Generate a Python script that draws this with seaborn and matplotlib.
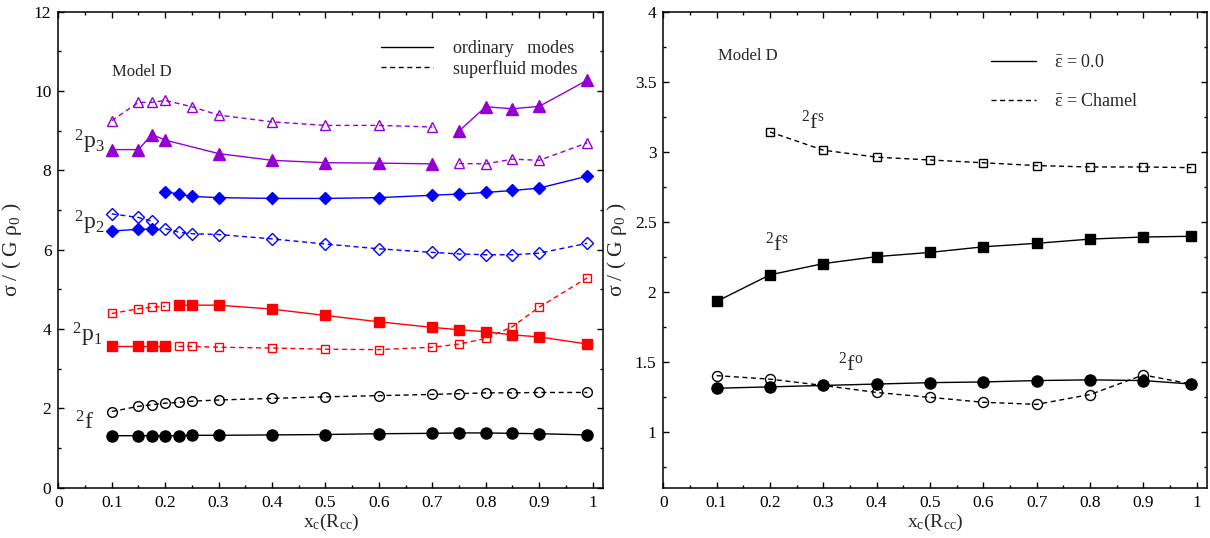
import matplotlib
matplotlib.use("Agg")
import matplotlib.pyplot as plt
import seaborn as sns
from matplotlib.lines import Line2D
from matplotlib.ticker import MultipleLocator, FormatStrFormatter

# -------- left panel: Model D, ordinary vs superfluid modes --------
f_x = [0.1, 0.15, 0.175, 0.2, 0.225, 0.25, 0.3, 0.4, 0.5, 0.6, 0.7, 0.75, 0.8, 0.85, 0.9, 0.99]
f_ord = [1.31, 1.31, 1.31, 1.31, 1.31, 1.32, 1.32, 1.33, 1.34, 1.36, 1.37, 1.38, 1.38, 1.37, 1.36, 1.33]
f_sup = [1.92, 2.05, 2.09, 2.13, 2.15, 2.18, 2.21, 2.25, 2.29, 2.32, 2.35, 2.37, 2.39, 2.39, 2.40, 2.40]

p1_xa = [0.1, 0.15, 0.175, 0.2]
p1_xb = [0.225, 0.25, 0.3, 0.4, 0.5, 0.6, 0.7, 0.75, 0.8, 0.85, 0.9, 0.99]
p1_ord_a = [3.57, 3.57, 3.57, 3.57]
p1_ord_b = [4.60, 4.60, 4.60, 4.50, 4.34, 4.18, 4.04, 3.98, 3.93, 3.85, 3.80, 3.62]
p1_sup_a = [4.39, 4.51, 4.55, 4.57]
p1_sup_b = [3.56, 3.56, 3.54, 3.52, 3.49, 3.48, 3.54, 3.62, 3.76, 4.06, 4.55, 5.29]

p2_xa = [0.1, 0.15, 0.175]
p2_xb = [0.2, 0.225, 0.25, 0.3, 0.4, 0.5, 0.6, 0.7, 0.75, 0.8, 0.85, 0.9, 0.99]
p2_ord_a = [6.47, 6.51, 6.52]
p2_ord_b = [7.46, 7.40, 7.34, 7.31, 7.29, 7.29, 7.31, 7.37, 7.40, 7.44, 7.49, 7.55, 7.85]
p2_sup_a = [6.90, 6.81, 6.71]
p2_sup_b = [6.53, 6.44, 6.40, 6.38, 6.27, 6.14, 6.02, 5.93, 5.89, 5.87, 5.87, 5.91, 6.16]

p3_ord_xa = [0.1, 0.15, 0.175, 0.2, 0.3, 0.4, 0.5, 0.6, 0.7]
p3_ord_a = [8.52, 8.52, 8.90, 8.76, 8.42, 8.25, 8.19, 8.18, 8.16]
p3_sup_xa = [0.1, 0.15, 0.175, 0.2, 0.25, 0.3, 0.4, 0.5, 0.6, 0.7]
p3_sup_a = [9.25, 9.71, 9.71, 9.76, 9.60, 9.39, 9.22, 9.13, 9.13, 9.09]
p3_xb = [0.75, 0.8, 0.85, 0.9, 0.99]
p3_ord_b = [8.99, 9.60, 9.55, 9.61, 10.27]
p3_sup_b = [8.17, 8.16, 8.28, 8.25, 8.69]

# -------- right panel: entrainment comparison --------
r_x = [0.1, 0.2, 0.3, 0.4, 0.5, 0.6, 0.7, 0.8, 0.9, 0.99]
fs_eps0 = [1.93, 2.12, 2.20, 2.25, 2.28, 2.32, 2.345, 2.375, 2.39, 2.395]
fs_chamel_x = [0.2, 0.3, 0.4, 0.5, 0.6, 0.7, 0.8, 0.9, 0.99]
fs_chamel = [3.14, 3.01, 2.96, 2.94, 2.92, 2.90, 2.89, 2.89, 2.885]
fo_eps0 = [1.31, 1.32, 1.33, 1.34, 1.35, 1.355, 1.365, 1.37, 1.365, 1.34]
fo_chamel = [1.40, 1.375, 1.33, 1.28, 1.245, 1.21, 1.195, 1.265, 1.405, 1.34]

PURPLE = "#9400d3"

sns.set_theme(style="ticks")
plt.rcParams.update({
    "font.family": ["Liberation Serif", "DejaVu Serif"],
    "mathtext.fontset": "stix",
    "mathtext.default": "regular",
    "xtick.direction": "in",
    "ytick.direction": "in",
    "xtick.top": True,
    "ytick.right": True,
    "axes.linewidth": 1.1,
    "axes.edgecolor": "black",
    "xtick.color": "black",
    "ytick.color": "black",
    "xtick.major.size": 4,
    "ytick.major.size": 4,
    "xtick.minor.size": 2.2,
    "ytick.minor.size": 2.2,
    "xtick.major.width": 1.0,
    "ytick.major.width": 1.0,
    "xtick.minor.width": 1.0,
    "ytick.minor.width": 1.0,
    "xtick.labelsize": 12.5,
    "ytick.labelsize": 12.5,
    "lines.dashed_pattern": [3.6, 2.6],
})


def draw(ax, x, y, color, marker, filled, dashed, ms):
    sns.lineplot(x=x, y=y, ax=ax, color=color, marker=marker, markersize=ms,
                 markerfacecolor=color if filled else "none", markeredgecolor=color,
                 markeredgewidth=1.0, linestyle="--" if dashed else "-",
                 linewidth=1.0, sort=False, errorbar=None, legend=False)


fig = plt.figure(figsize=(12.1, 5.38), dpi=100)
ax1 = fig.add_axes([0.0482, 0.0935, 0.4504, 0.8851])
ax2 = fig.add_axes([0.5482, 0.0935, 0.4496, 0.8851])

# left panel curves
draw(ax1, f_x, f_ord, "black", "o", True, False, 8.0)
draw(ax1, f_x, f_sup, "black", "o", False, True, 7.0)
draw(ax1, p1_xa, p1_ord_a, "red", "s", True, False, 7.2)
draw(ax1, p1_xb, p1_ord_b, "red", "s", True, False, 7.2)
draw(ax1, p1_xa, p1_sup_a, "red", "s", False, True, 6.2)
draw(ax1, p1_xb, p1_sup_b, "red", "s", False, True, 6.2)
draw(ax1, p2_xa, p2_ord_a, "blue", "D", True, False, 6.6)
draw(ax1, p2_xb, p2_ord_b, "blue", "D", True, False, 6.6)
draw(ax1, p2_xa, p2_sup_a, "blue", "D", False, True, 5.8)
draw(ax1, p2_xb, p2_sup_b, "blue", "D", False, True, 5.8)
draw(ax1, p3_ord_xa, p3_ord_a, PURPLE, "^", True, False, 8.2)
draw(ax1, p3_xb, p3_ord_b, PURPLE, "^", True, False, 8.2)
draw(ax1, p3_sup_xa, p3_sup_a, PURPLE, "^", False, True, 7.6)
draw(ax1, p3_xb, p3_sup_b, PURPLE, "^", False, True, 7.6)

# right panel curves
draw(ax2, r_x, fs_eps0, "black", "s", True, False, 6.8)
draw(ax2, fs_chamel_x, fs_chamel, "black", "s", False, True, 6.0)
draw(ax2, r_x, fo_eps0, "black", "o", True, False, 8.0)
draw(ax2, r_x, fo_chamel, "black", "o", False, True, 7.2)

ax1.set_xlim(0, 1.02)
ax1.set_ylim(0, 12)
ax1.yaxis.set_major_locator(MultipleLocator(2))
ax1.yaxis.set_minor_locator(MultipleLocator(1))
ax2.set_xlim(0, 1.02)
ax2.set_ylim(0.6, 4)
ax2.yaxis.set_major_locator(MultipleLocator(0.5))
ax2.yaxis.set_minor_locator(MultipleLocator(0.25))
ax2.yaxis.set_major_formatter(FormatStrFormatter("%g"))

for ax in (ax1, ax2):
    ax.xaxis.set_major_locator(MultipleLocator(0.1))
    ax.xaxis.set_minor_locator(MultipleLocator(0.05))
    ax.xaxis.set_major_formatter(FormatStrFormatter("%g"))
    ax.tick_params(which="both", top=True, right=True, direction="in")
    ax.tick_params(which="major", pad=5)
    ax.set_xlabel("x$_c$(R$_{cc}$)", fontsize=14)
    ax.set_ylabel("σ / ( G ρ$_0$ )", fontsize=15.5)
    ax.xaxis.set_label_coords(0.5, -0.05)
    ax.yaxis.set_label_coords(-0.063, 0.5)
    for s in ax.spines.values():
        s.set_visible(True)

# annotations
ax1.text(0.10, 10.48, "Model D", fontsize=12, va="center")
ax1.text(0.03, 8.55, "$^2$p$_3$", fontsize=17, va="baseline")
ax1.text(0.03, 6.50, "$^2$p$_2$", fontsize=17, va="baseline")
ax1.text(0.026, 3.69, "$^2$p$_1$", fontsize=17, va="baseline")
ax1.text(0.032, 1.46, "$^2$f", fontsize=17, va="baseline")

ax2.text(0.102, 3.68, "Model D", fontsize=12, va="center")
ax2.text(0.258, 3.16, "$^2$f$^s$", fontsize=16, va="baseline")
ax2.text(0.19, 2.29, "$^2$f$^s$", fontsize=16, va="baseline")
ax2.text(0.328, 1.436, "$^2$f$^o$", fontsize=16, va="baseline")

h_solid = Line2D([], [], color="black", lw=1.0)
h_dash = Line2D([], [], color="black", lw=1.0, ls="--")
ax1.legend([h_solid, h_dash], ["ordinary   modes", "superfluid modes"],
           loc="upper left", bbox_to_anchor=(0.592, 0.94), frameon=False,
           fontsize=13, handlelength=2.9, handletextpad=1.1, labelspacing=0.15,
           borderpad=0, borderaxespad=0)
ax2.legend([h_solid, h_dash], [r"$\bar{\varepsilon}$ = 0.0", r"$\bar{\varepsilon}$ = Chamel"],
           loc="upper left", bbox_to_anchor=(0.602, 0.91), frameon=False,
           fontsize=13, handlelength=2.5, handletextpad=1.0, labelspacing=1.2,
           borderpad=0, borderaxespad=0)

fig.savefig("out.png", dpi=100)
